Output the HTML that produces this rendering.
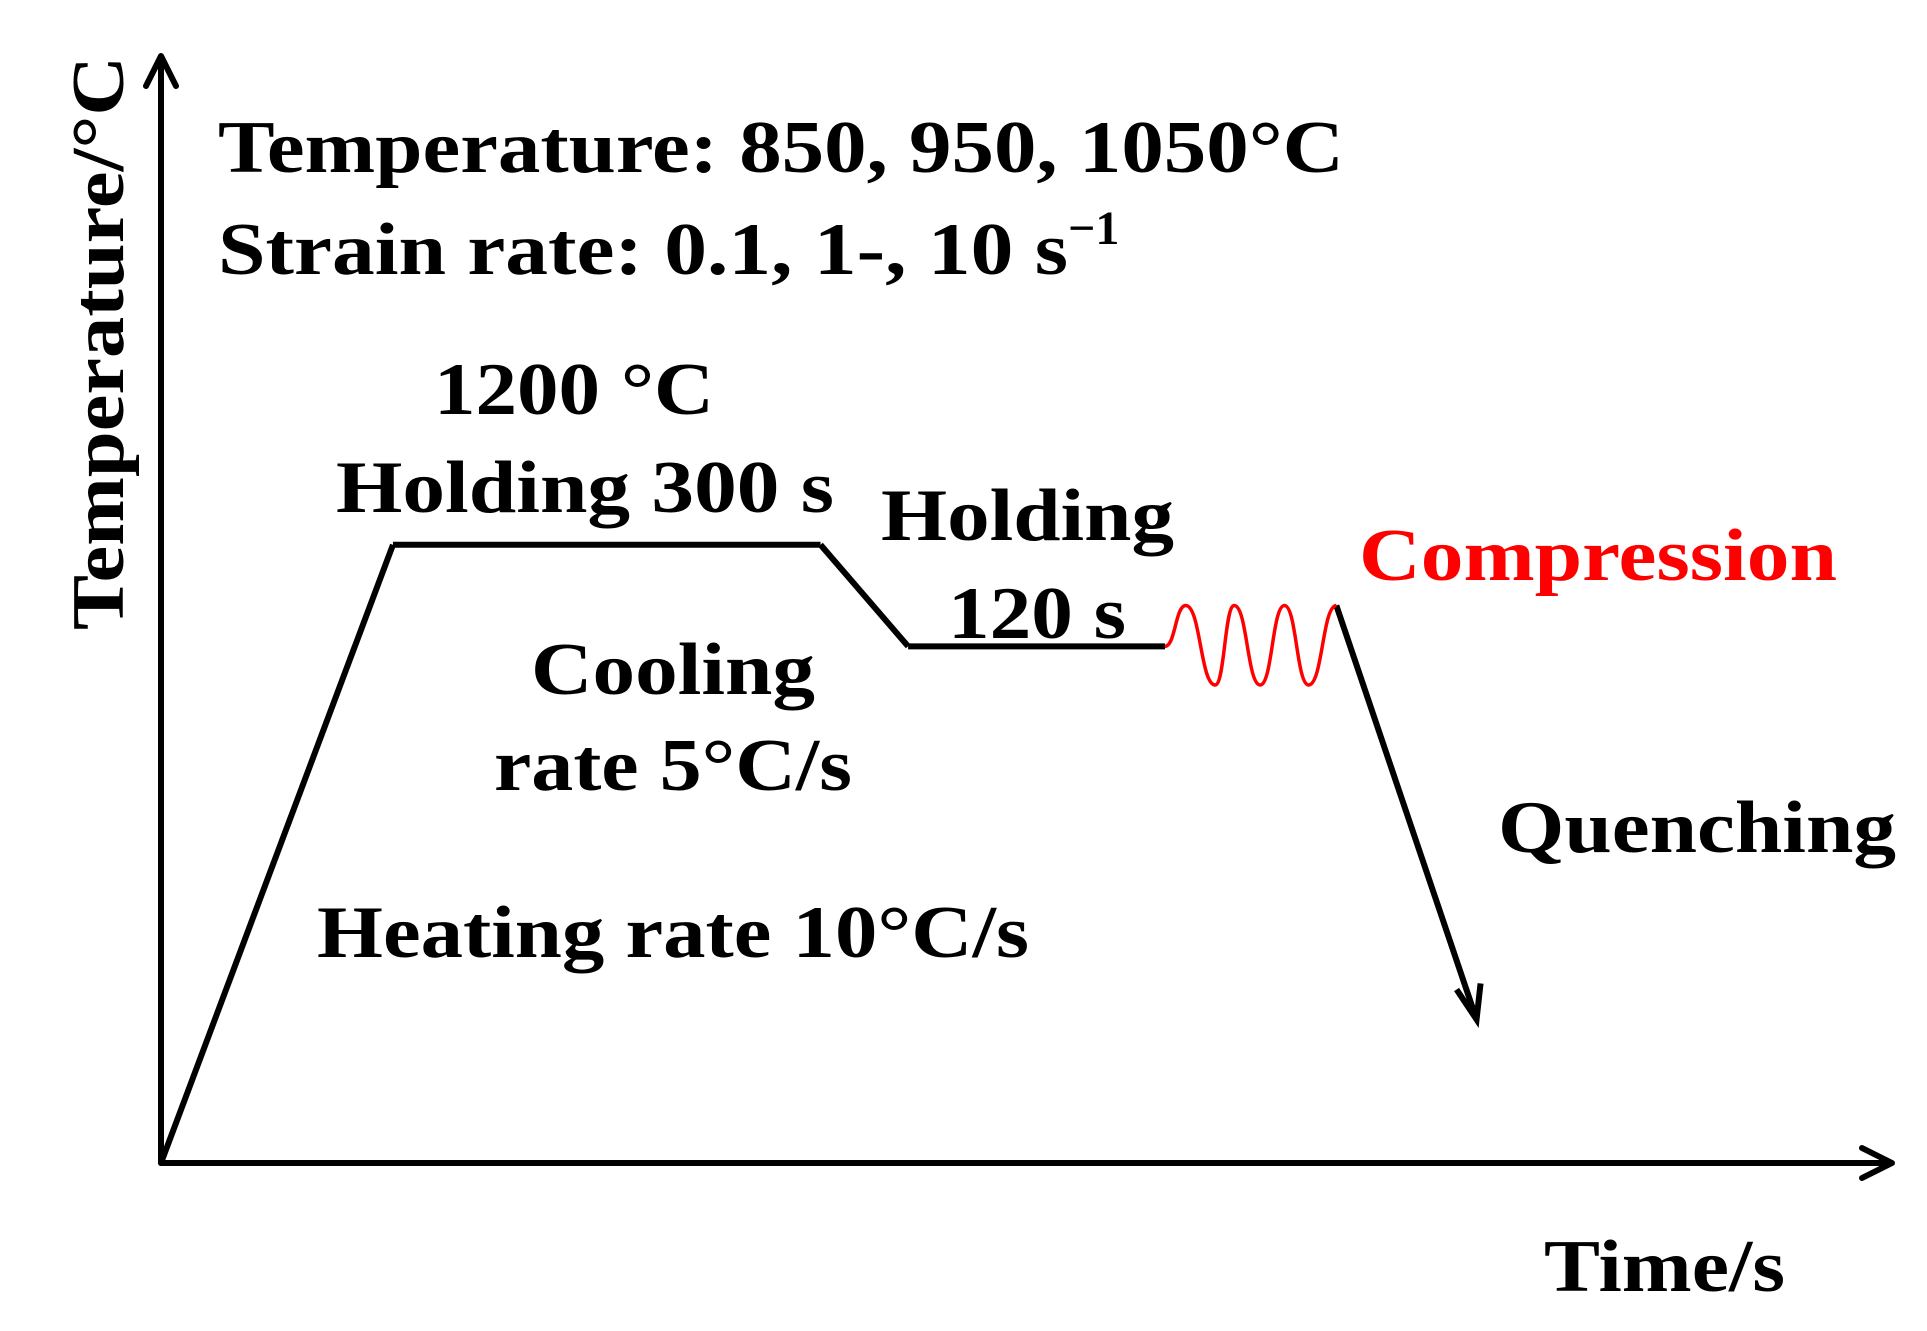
<!DOCTYPE html>
<html><head><meta charset="utf-8"><style>
html,body{margin:0;padding:0;background:#fff}
svg{display:block}
text{font-family:"Liberation Serif",serif;font-weight:bold}
</style></head><body>
<svg width="1927" height="1331" viewBox="0 0 1927 1331">
<g stroke="#000" stroke-width="6" fill="none" stroke-linecap="round" stroke-linejoin="round">
<line x1="161" y1="1163" x2="161" y2="60"/>
<polyline points="146,86 161,56 176,86"/>
<line x1="161" y1="1163" x2="1888" y2="1163"/>
<polyline points="1862,1148 1892,1163 1862,1178"/>
</g>
<g id="curve" stroke="#000" stroke-width="6" fill="none" stroke-linejoin="miter"></g>
<text x="218" y="172" font-size="74" textLength="1126" lengthAdjust="spacingAndGlyphs">Temperature: 850, 950, 1050°C</text>
<text x="218" y="274" font-size="74"><tspan textLength="850" lengthAdjust="spacingAndGlyphs">Strain rate: 0.1, 1-, 10 s</tspan><tspan font-size="48" dy="-30">−1</tspan></text>
<text x="434" y="414" font-size="74" textLength="280" lengthAdjust="spacingAndGlyphs">1200 °C</text>
<text x="336" y="512" font-size="74" textLength="498" lengthAdjust="spacingAndGlyphs">Holding 300 s</text>
<text x="881" y="540" font-size="74" textLength="293" lengthAdjust="spacingAndGlyphs">Holding</text>
<text x="948" y="638" font-size="74" textLength="178" lengthAdjust="spacingAndGlyphs">120 s</text>
<text x="1359" y="580" font-size="74" fill="#ff0000" textLength="478" lengthAdjust="spacingAndGlyphs">Compression</text>
<text x="531" y="694" font-size="74" textLength="284" lengthAdjust="spacingAndGlyphs">Cooling</text>
<text x="494" y="790" font-size="74" textLength="358" lengthAdjust="spacingAndGlyphs">rate 5°C/s</text>
<text x="1498" y="852" font-size="74" textLength="398" lengthAdjust="spacingAndGlyphs">Quenching</text>
<text x="317" y="957" font-size="74" textLength="712" lengthAdjust="spacingAndGlyphs">Heating rate 10°C/s</text>
<text x="1544" y="1291" font-size="74" textLength="241" lengthAdjust="spacingAndGlyphs">Time/s</text>
<text transform="translate(123,630) rotate(-90)" font-size="74" textLength="574" lengthAdjust="spacingAndGlyphs">Temperature/°C</text>
</svg>
<script>
const stageX = [0, 0.134, 0.381, 0.4316, 0.58, 0.679, 0.760];
const stageY = [0, 0.56, 0.56, 0.468, 0.468, 0.505, 0.13];
const waveX = [0.58, 0.592, 0.609, 0.620, 0.635, 0.649, 0.663, 0.679];
const waveY = [0.468, 0.505, 0.433, 0.505, 0.433, 0.505, 0.433, 0.505];
function X(v){return 161 + v*1731;}
function Y(v){return 1163 - v*1104;}
const svg = document.querySelector('svg');
const g = document.getElementById('curve');
const ns = 'http://www.w3.org/2000/svg';
function seg(i){
  const l = document.createElementNS(ns,'line');
  l.setAttribute('x1',X(stageX[i]));l.setAttribute('y1',Y(stageY[i]));
  l.setAttribute('x2',X(stageX[i+1]));l.setAttribute('y2',Y(stageY[i+1]));
  
  
  g.appendChild(l);
}
[0,1,2,3,5].forEach(seg);
const qx=X(stageX[6]), qy=Y(stageY[6]);
const ah=document.createElementNS(ns,'polyline');
ah.setAttribute('points',`${qx-20},${qy-30} ${qx},${qy} ${qx+4},${qy-36}`);


g.appendChild(ah);
let d='M'+X(waveX[0])+','+Y(waveY[0]);
for(let i=1;i<waveX.length;i++){
  const x0=X(waveX[i-1]),x1=X(waveX[i]),y0=Y(waveY[i-1]),y1=Y(waveY[i]);
  const m=(x0+x1)/2;
  d+=` C${m},${y0} ${m},${y1} ${x1},${y1}`;
}
const w=document.createElementNS(ns,'path');
w.setAttribute('d',d);w.setAttribute('stroke','#ff0000');w.setAttribute('stroke-width','3.5');w.setAttribute('fill','none');


svg.appendChild(w);
</script>
</body></html>
